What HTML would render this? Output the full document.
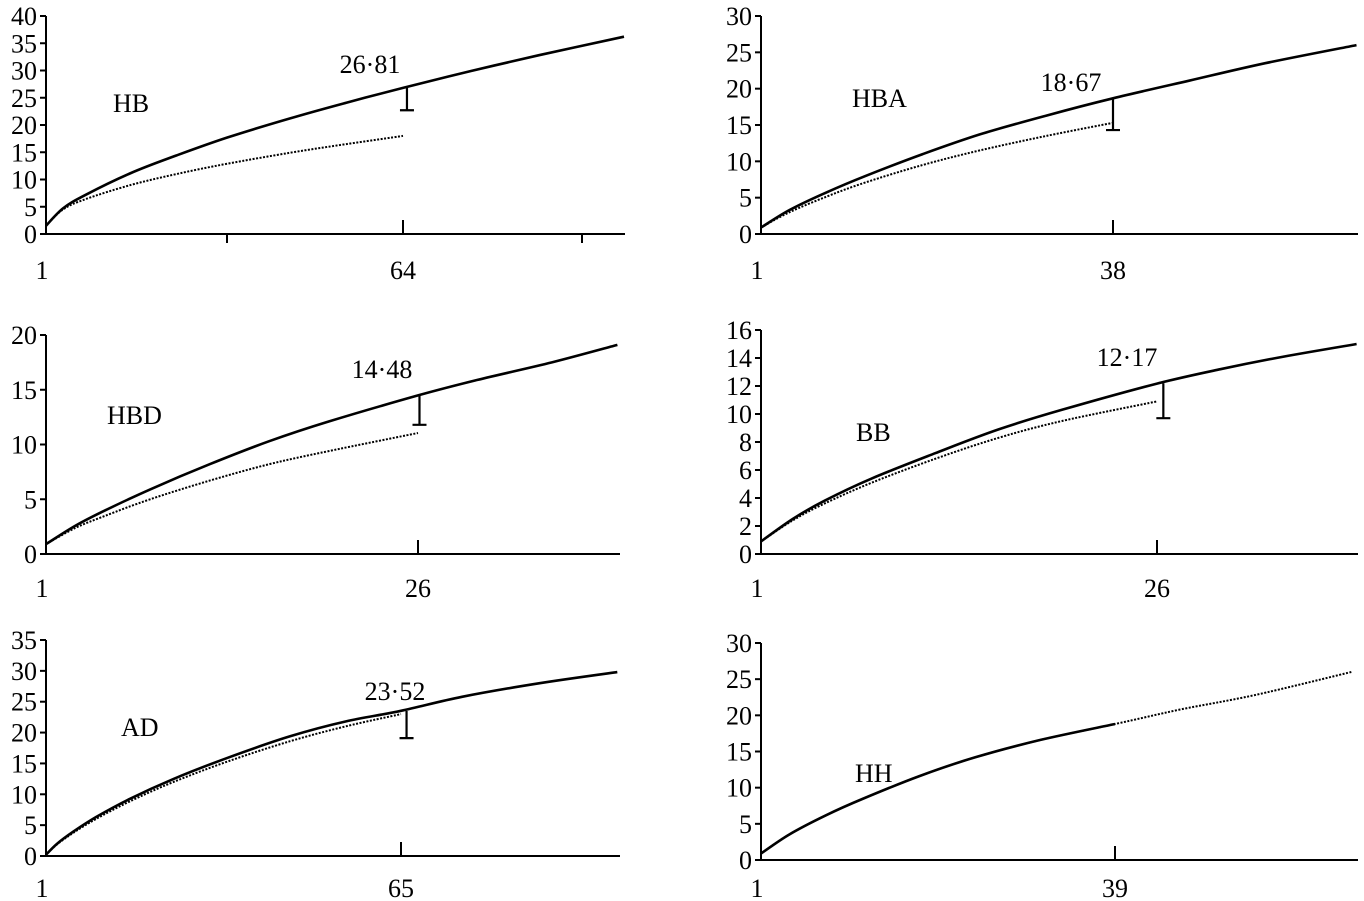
<!DOCTYPE html>
<html><head><meta charset="utf-8"><style>
html,body{margin:0;padding:0;background:#fff}
svg{display:block}
text{font-family:"Liberation Serif",serif;font-size:26px;fill:#000}
</style></head><body>
<svg id="chart" width="1364" height="901" viewBox="0 0 1364 901"></svg>
<script>
// ---- data ----
const p1X=[1,4,8,16,24,33,44,54,64,76,88,103];
const p1Solid=[1.5,4.7,7.2,11.2,14.4,17.7,21.2,24.1,26.81,29.9,32.8,36.2];
const p1DotX=[1,4,8,16,24,33,44,54,64];
const p1Dot=[1.5,4.5,6.4,9.0,11.0,12.9,14.9,16.5,18.0];
const p2X=[1,4,8,12,18,24,31,38,46,54,63.6];
const p2Solid=[0.9,3.3,5.8,8.0,11.0,13.7,16.3,18.67,21.1,23.5,26.0];
const p2DotX=[1,4,8,12,18,24,31,38];
const p2Dot=[0.9,3.0,5.2,7.1,9.5,11.5,13.5,15.3];
const p3X=[1,3,5,8,12,16,20,26,30,35,39.4];
const p3Solid=[0.9,2.6,4.0,5.9,8.2,10.3,12.1,14.48,15.9,17.5,19.1];
const p3DotX=[1,3,5,8,12,16,20,26];
const p3Dot=[0.9,2.4,3.5,5.0,6.7,8.2,9.4,11.05];
const p4X=[1,3,5,8,12,16,20,26,30,34,38.6];
const p4Solid=[0.9,2.5,3.8,5.4,7.2,8.9,10.3,12.17,13.2,14.1,15.0];
const p4DotX=[1,3,5,8,12,16,20,26];
const p4Dot=[0.9,2.4,3.6,5.1,6.8,8.3,9.5,10.9];
const p5X=[1,3,6,10,16,24,34,45,55,65,76,90,104];
const p5Solid=[0.2,2.0,4.0,6.3,9.2,12.5,16.0,19.4,21.8,23.52,25.8,28.0,29.8];
const p5DotX=[1,3,6,10,16,24,34,45,55,65];
const p5Dot=[0.2,1.9,3.8,6.0,8.8,12.0,15.4,18.6,21.0,23.0];
const p6X=[1,4,8,12,18,24,31,39];
const p6Solid=[0.9,3.5,6.2,8.5,11.6,14.2,16.6,18.8];
const p6DotX=[1,4,8,12,18,24,31,39,46,54,64.4];
const p6Dot=[0.9,3.5,6.2,8.5,11.6,14.2,16.6,18.8,20.8,22.8,26.0];
const yTicks1=[0,5,10,15,20,25,30,35,40];
const yTicks2=[0,5,10,15,20,25,30];
const yTicks3=[0,5,10,15,20];
const yTicks4=[0,2,4,6,8,10,12,14,16];
const yTicks5=[0,5,10,15,20,25,30,35];
const yTicks6=[0,5,10,15,20,25,30];
const valueLabels=["26·81","18·67","14·48","12·17","23·52",null];
const errTop=[26.81,18.67,14.5,12.2,23.5,null];
const errBot=[22.7,14.3,11.8,9.7,19.1,null];
const errX=[64.7,38,26.1,26.4,66,null];
const xMarks=[64,38,26,26,65,39];
const names=["HB","HBA","HBD","BB","AD","HH"];

// ---- geometry ----
const panels=[
 {ax:46,x0:234,yMax:40,yTop:16,xLab:403,xEnd:625,lb:45,ticks:yTicks1,sx:p1X,s:p1Solid,dx:p1DotX,d:p1Dot,lbl:[370,73],nm:[113,112],extra:[227,582]},
 {ax:761,x0:234,yMax:30,yTop:16,xLab:1113,xEnd:1358,lb:45,ticks:yTicks2,sx:p2X,s:p2Solid,dx:p2DotX,d:p2Dot,lbl:[1071,91],nm:[852,107]},
 {ax:46,x0:554,yMax:20,yTop:335,xLab:418,xEnd:620,lb:43,ticks:yTicks3,sx:p3X,s:p3Solid,dx:p3DotX,d:p3Dot,lbl:[382,378],nm:[107,424]},
 {ax:761,x0:554,yMax:16,yTop:330,xLab:1157,xEnd:1358,lb:43,ticks:yTicks4,sx:p4X,s:p4Solid,dx:p4DotX,d:p4Dot,lbl:[1127,366],nm:[856,441]},
 {ax:46,x0:856,yMax:35,yTop:640,xLab:401,xEnd:620,lb:41,ticks:yTicks5,sx:p5X,s:p5Solid,dx:p5DotX,d:p5Dot,lbl:[395,700],nm:[121,736]},
 {ax:761,x0:860,yMax:30,yTop:643,xLab:1115,xEnd:1358,lb:37,ticks:yTicks6,sx:p6X,s:p6Solid,dx:p6DotX,d:p6Dot,lbl:null,nm:[855,782]}
];
const NS="http://www.w3.org/2000/svg";
const svg=document.getElementById('chart');
function mk(tag,attrs,parent){const e=document.createElementNS(NS,tag);for(const k in attrs)e.setAttribute(k,attrs[k]);(parent||svg).appendChild(e);return e;}
function smooth(pts){
 let d='M'+pts[0][0].toFixed(1)+','+pts[0][1].toFixed(1);
 for(let i=0;i<pts.length-1;i++){
  const p0=pts[Math.max(0,i-1)],p1=pts[i],p2=pts[i+1],p3=pts[Math.min(pts.length-1,i+2)];
  const c1=[p1[0]+(p2[0]-p0[0])/6,p1[1]+(p2[1]-p0[1])/6];
  const c2=[p2[0]-(p3[0]-p1[0])/6,p2[1]-(p3[1]-p1[1])/6];
  d+='C'+c1.map(v=>v.toFixed(1)).join(',')+' '+c2.map(v=>v.toFixed(1)).join(',')+' '+p2[0].toFixed(1)+','+p2[1].toFixed(1);
 }
 return d;
}

panels.forEach((p,i)=>{
 const g=mk('g',{});
 
 
 const xs=v=>p.ax+(v-1)*(p.xLab-p.ax)/(xMarks[i]-1);
 const ys=v=>p.x0-v*(p.x0-p.yTop)/p.yMax;
 const ya=mk('line',{x1:p.ax,y1:p.yTop,x2:p.ax,y2:p.x0,stroke:'#000','stroke-width':2},g);
 
 
 const xa=mk('line',{x1:p.ax,y1:p.x0,x2:p.xEnd,y2:p.x0,stroke:'#000','stroke-width':2},g);
 
 
 p.ticks.forEach(t=>{
  const y=ys(t);
  mk('line',{x1:p.ax-6,y1:y,x2:p.ax,y2:y,stroke:'#000','stroke-width':2},g);
  const tx=mk('text',{x:p.ax-9,y:y+9,'text-anchor':'end'},g);
  tx.textContent=t;
  
  
 });
 mk('line',{x1:p.xLab,y1:p.x0-14,x2:p.xLab,y2:p.x0,stroke:'#000','stroke-width':2},g);
 if(p.extra)p.extra.forEach(x=>mk('line',{x1:x,y1:p.x0,x2:x,y2:p.x0+9,stroke:'#000','stroke-width':2},g));
 const l1=mk('text',{x:p.ax-4,y:p.x0+p.lb,'text-anchor':'middle'},g);l1.textContent='1';
 
 
 const l2=mk('text',{x:p.xLab,y:p.x0+p.lb,'text-anchor':'middle'},g);l2.textContent=xMarks[i];
 
 
 const dl=mk('path',{d:smooth(p.dx.map((v,k)=>[xs(v),ys(p.d[k])])),fill:'none',stroke:'#000','stroke-width':2,'stroke-dasharray':'2 1.5'},g);
 
 
 const sl=mk('path',{d:smooth(p.sx.map((v,k)=>[xs(v),ys(p.s[k])])),fill:'none',stroke:'#000','stroke-width':2.6,'stroke-linejoin':'round'},g);
 
 
 if(errX[i]!==null){
  const ex=xs(errX[i]);
  const eb=mk('path',{d:`M${ex},${ys(errTop[i])}L${ex},${ys(errBot[i])}M${ex-7},${ys(errBot[i])}L${ex+7},${ys(errBot[i])}`,fill:'none',stroke:'#000','stroke-width':2.2},g);
  
  
 }
 if(p.lbl){
  const vl=mk('text',{x:p.lbl[0],y:p.lbl[1],'text-anchor':'middle'},g);vl.textContent=valueLabels[i];
  
  
 }
 const nl=mk('text',{x:p.nm[0],y:p.nm[1]},g);nl.textContent=names[i];
 
 
});
</script>
</body></html>
